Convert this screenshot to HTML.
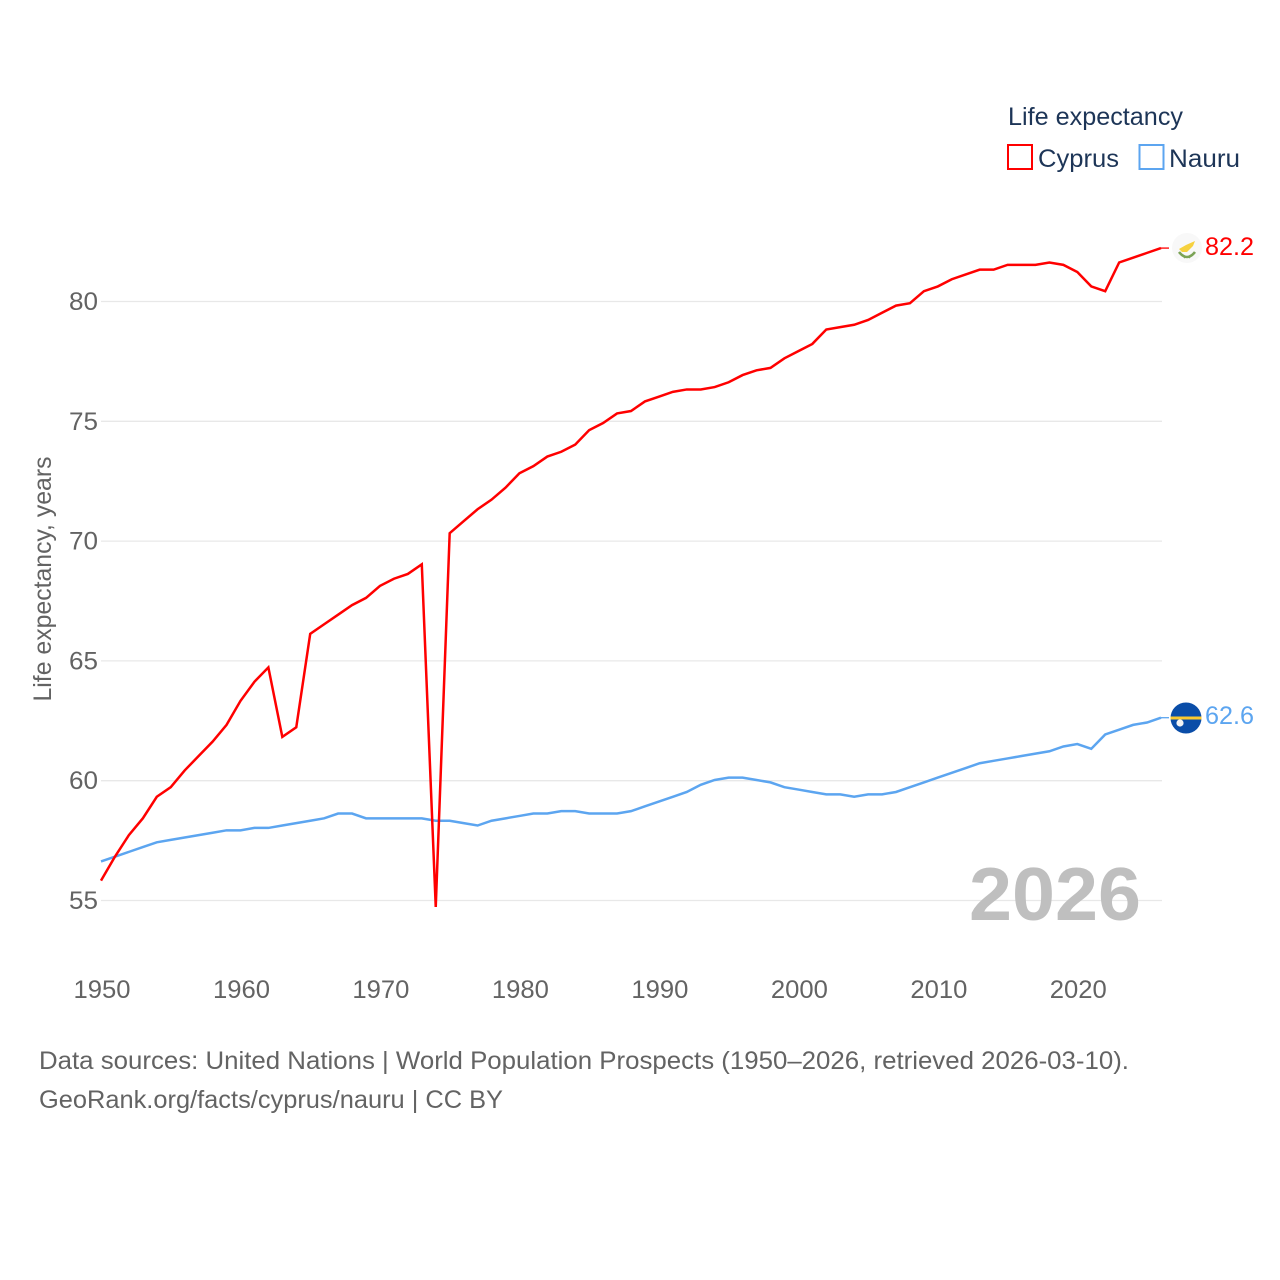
<!DOCTYPE html>
<html lang="en">
<head>
<meta charset="utf-8">
<title>Life expectancy: Cyprus and Nauru</title>
<style>
html,body{margin:0;padding:0;background:#fff;}
svg{display:block;font-family:"Liberation Sans",sans-serif;}
</style>
</head>
<body>
<svg id="chart" width="1280" height="1280" viewBox="0 0 1280 1280" xmlns="http://www.w3.org/2000/svg">
  <rect width="1280" height="1280" fill="#fff"/>
  <g id="grid"></g>
  <g id="yticks"></g>
  <g id="xticks"></g>
  <text x="1141" y="920" text-anchor="end" font-size="75" font-weight="700" fill="#bfbfbf" textLength="172" lengthAdjust="spacingAndGlyphs">2026</text>
  <text transform="translate(51,579) rotate(-90)" text-anchor="middle" font-size="25" fill="#636363" textLength="245" lengthAdjust="spacingAndGlyphs">Life expectancy, years</text>
  <g id="series"></g>

  <g>
    <circle cx="1187" cy="248" r="15" fill="#f8f8f8"/>
    <path d="M1179 249 L1186 245 L1195 241 L1193 246 L1187 252 L1182 252 Z" fill="#f6d13e"/>
    <path d="M1179 252 Q1187 262 1195 252" fill="none" stroke="#7ba356" stroke-width="2.6"/>
    <path d="M1186 256 L1184 258 M1188 256 L1190 258" stroke="#7ba356" stroke-width="1.4"/>
  </g>
  <text x="1205" y="255" font-size="25" fill="#ff0000" textLength="49" lengthAdjust="spacingAndGlyphs">82.2</text>

  <g>
    <circle cx="1186" cy="718" r="15.500" fill="#0a4da8"/>
    <rect x="1170.500" y="716.500" width="31" height="3" fill="#fbc92f"/>
    <circle cx="1180" cy="723" r="3.600" fill="#f3f3f3"/>
  </g>
  <text x="1205" y="724" font-size="25" fill="#5ca5f0" textLength="49" lengthAdjust="spacingAndGlyphs">62.6</text>

  <g>
    <text x="1008" y="125" font-size="25" fill="#1d3557" textLength="175" lengthAdjust="spacingAndGlyphs">Life expectancy</text>
    <g>
      <rect x="1008" y="145" width="24" height="24" fill="#fff" stroke="#ff0000" stroke-width="2"/>
      <text x="1038" y="167" font-size="25" fill="#1d3557" textLength="81" lengthAdjust="spacingAndGlyphs">Cyprus</text>
    </g>
    <g>
      <rect x="1139.500" y="145" width="24" height="24" fill="#fff" stroke="#5ca5f0" stroke-width="2"/>
      <text x="1169" y="167" font-size="25" fill="#1d3557" textLength="71" lengthAdjust="spacingAndGlyphs">Nauru</text>
    </g>
  </g>

  <text x="39" y="1069" font-size="25" fill="#636363" textLength="1090" lengthAdjust="spacingAndGlyphs">Data sources: United Nations | World Population Prospects (1950–2026, retrieved 2026-03-10).</text>
  <text x="39" y="1108" font-size="25" fill="#636363" textLength="464" lengthAdjust="spacingAndGlyphs">GeoRank.org/facts/cyprus/nauru | CC BY</text>
</svg>
<script>
const startYear = 1950;
const yTickValues = [55, 60, 65, 70, 75, 80];
const xTickValues = [1950, 1960, 1970, 1980, 1990, 2000, 2010, 2020];
const cyprusValues = [
  55.8, 56.8, 57.7, 58.4, 59.3, 59.7, 60.4, 61.0, 61.6, 62.3,
  63.3, 64.1, 64.7, 61.8, 62.2, 66.1, 66.5, 66.9, 67.3, 67.6,
  68.1, 68.4, 68.6, 69.0, 54.7, 70.3, 70.8, 71.3, 71.7, 72.2,
  72.8, 73.1, 73.5, 73.7, 74.0, 74.6, 74.9, 75.3, 75.4, 75.8,
  76.0, 76.2, 76.3, 76.3, 76.4, 76.6, 76.9, 77.1, 77.2, 77.6,
  77.9, 78.2, 78.8, 78.9, 79.0, 79.2, 79.5, 79.8, 79.9, 80.4,
  80.6, 80.9, 81.1, 81.3, 81.3, 81.5, 81.5, 81.5, 81.6, 81.5,
  81.2, 80.6, 80.4, 81.6, 81.8, 82.0, 82.2
];
const nauruValues = [
  56.6, 56.8, 57.0, 57.2, 57.4, 57.5, 57.6, 57.7, 57.8, 57.9,
  57.9, 58.0, 58.0, 58.1, 58.2, 58.3, 58.4, 58.6, 58.6, 58.4,
  58.4, 58.4, 58.4, 58.4, 58.3, 58.3, 58.2, 58.1, 58.3, 58.4,
  58.5, 58.6, 58.6, 58.7, 58.7, 58.6, 58.6, 58.6, 58.7, 58.9,
  59.1, 59.3, 59.5, 59.8, 60.0, 60.1, 60.1, 60.0, 59.9, 59.7,
  59.6, 59.5, 59.4, 59.4, 59.3, 59.4, 59.4, 59.5, 59.7, 59.9,
  60.1, 60.3, 60.5, 60.7, 60.8, 60.9, 61.0, 61.1, 61.2, 61.4,
  61.5, 61.3, 61.9, 62.1, 62.3, 62.4, 62.6
];

const NS = 'http://www.w3.org/2000/svg';
const xScale = function (year) { return 101 + (year - 1950) * (1161 - 101) / 76; };
const yScale = function (value) { return 899.8 - (value - 55) * (900.5 - 301.5) / 25; };
const gridY = function (value) { return yScale(value) + 0.7; };

function make(tag, attrs, parent) {
  const el = document.createElementNS(NS, tag);
  Object.keys(attrs).forEach(function (k) { el.setAttribute(k, attrs[k]); });
  parent.appendChild(el);
  return el;
}

const gridGroup = document.getElementById('grid');
const yGroup = document.getElementById('yticks');
const xGroup = document.getElementById('xticks');
const seriesGroup = document.getElementById('series');

yTickValues.forEach(function (v) {
  const line = make('line', { x1: 101, x2: 1162, y1: gridY(v), y2: gridY(v), stroke: '#e8e8e8', 'stroke-width': 1.3 }, gridGroup);
  
  
  const label = make('text', { x: 98, y: gridY(v) + 8.5, 'text-anchor': 'end', 'font-size': 25, fill: '#636363', textLength: 29, lengthAdjust: 'spacingAndGlyphs' }, yGroup);
  
  
  label.textContent = v;
});

xTickValues.forEach(function (v) {
  const label = make('text', { x: xScale(v) + 1, y: 998, 'text-anchor': 'middle', 'font-size': 25, fill: '#636363', textLength: 57, lengthAdjust: 'spacingAndGlyphs' }, xGroup);
  
  
  label.textContent = v;
});

function drawSeries(values, color, name) {
  const pts = values.map(function (v, i) { return xScale(startYear + i).toFixed(2) + ',' + yScale(v).toFixed(2); });
  const line = make('polyline', { points: pts.join(' '), fill: 'none', stroke: color, 'stroke-width': 2.5, 'stroke-linejoin': 'miter', 'stroke-miterlimit': 20 }, seriesGroup);
  
  
  const lastY = yScale(values[values.length - 1]);
  const leader = make('line', { x1: xScale(startYear + values.length - 1), x2: 1169, y1: lastY, y2: lastY, stroke: color, 'stroke-width': 1.3 }, seriesGroup);
  
  
}
drawSeries(nauruValues, '#5ca5f0', 'nauru');
drawSeries(cyprusValues, '#ff0000', 'cyprus');
</script>
</body>
</html>
